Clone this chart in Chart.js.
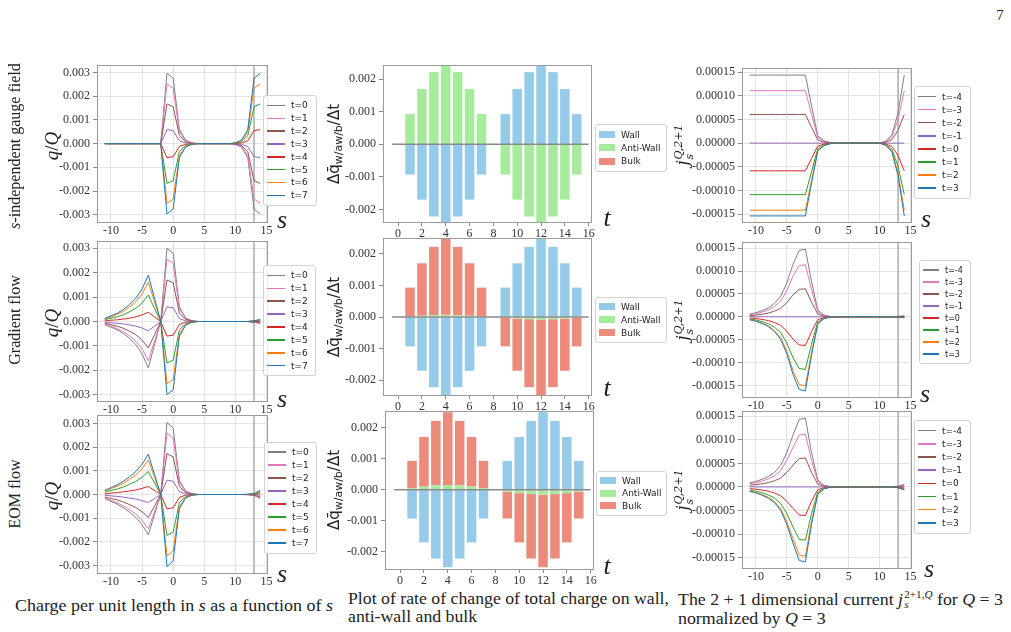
<!DOCTYPE html>
<html>
<head>
<meta charset="utf-8">
<script src="https://cdn.jsdelivr.net/npm/chart.js@4.4.0/dist/chart.umd.min.js"></script>
<style>
  html, body { margin: 0; padding: 0; background: #fff; }
  body { width: 1011px; height: 632px; position: relative; overflow: hidden; font-family: "Liberation Serif", serif; color: #222; }
  canvas { position: absolute; }
  .c { position: absolute; transform: translate(-50%, -50%); white-space: nowrap; line-height: 1; }
  .r { position: absolute; transform: translate(-50%, -50%) rotate(-90deg); white-space: nowrap; line-height: 1; }
  .rowlab { font-size: 15px; }
  .ql { font-size: 19px; font-style: italic; }
  .ql span { font-style: normal; }
  .xl { font-size: 26px; font-style: italic; }
  .ml { font-family: "DejaVu Sans", sans-serif; font-size: 15px; }
  .ml sub { font-size: 11px; vertical-align: -3px; }
  .jl { font-family: "DejaVu Serif", serif; font-size: 16px; font-style: italic; }
  .ss { display: inline-block; vertical-align: -5px; line-height: 1; font-size: 11px; margin-left: 1px; }
  .ss span { display: block; }
  .cap { position: absolute; font-size: 16px; line-height: 18px; white-space: nowrap; transform-origin: 0 0; }
  .cap .ss { font-size: 10px; vertical-align: -3px; }
  .leg { position: absolute; background: rgba(255,255,255,0.85); border: 1px solid #d2d2d2; border-radius: 3px;
         padding: 3px 0 3px 3px; font-family: "DejaVu Sans", sans-serif; font-size: 9px; color: #222; }
  .leg .row { display: flex; align-items: center; }
  .leg .ln { display: inline-block; width: 18px; height: 1.5px; margin-right: 6px; }
  .leg .patch { display: inline-block; width: 16px; height: 7px; margin-right: 6px; }
</style>
</head>
<body>

<div class="c" style="left:1000px;top:15px;font-size:15px">7</div>

<div class="r rowlab" id="rl1" style="left:15px;top:146px"><i>s</i>-independent gauge field</div>
<div class="r rowlab" style="left:15px;top:320px">Gradient flow</div>
<div class="r rowlab" style="left:15px;top:494px">EOM flow</div>

<div class="r ql" style="left:51px;top:146px">q<span>/</span>Q</div>
<div class="r ql" style="left:51px;top:323px">q<span>/</span>Q</div>
<div class="r ql" style="left:51px;top:496px">q<span>/</span>Q</div>

<div class="r ml" style="left:335px;top:144px">Δq̄<sub>w/aw/b</sub>/Δt</div>
<div class="r ml" style="left:335px;top:317px">Δq̄<sub>w/aw/b</sub>/Δt</div>
<div class="r ml" style="left:335px;top:490px">Δq̄<sub>w/aw/b</sub>/Δt</div>

<div class="r jl" style="left:684px;top:145px">j<span class="ss"><span>Q,2+1</span><span>s</span></span></div>
<div class="r jl" style="left:684px;top:320px">j<span class="ss"><span>Q,2+1</span><span>s</span></span></div>
<div class="r jl" style="left:684px;top:490px">j<span class="ss"><span>Q,2+1</span><span>s</span></span></div>

<div class="c xl" style="left:282px;top:219.7px">s</div>
<div class="c xl" style="left:282px;top:398.9px">s</div>
<div class="c xl" style="left:282px;top:573.9px">s</div>
<div class="c xl" style="left:926px;top:219.2px">s</div>
<div class="c xl" style="left:925px;top:393.9px">s</div>
<div class="c xl" style="left:929px;top:568.9px">s</div>
<div class="c xl" style="left:607px;top:218.4px">t</div>
<div class="c xl" style="left:607px;top:387.5px">t</div>
<div class="c xl" style="left:607px;top:565.7px">t</div>

<div class="cap" id="cap1" data-w="318" style="left:15px;top:597px">Charge per unit length in <i>s</i> as a function of <i>s</i></div>
<div class="cap" id="cap2" data-w="321" style="left:348px;top:590px"><div>Plot of rate of change of total charge on wall,</div><div>anti-wall and bulk</div></div>
<div class="cap" id="cap3" data-w="325" style="left:678px;top:590px"><div>The 2 + 1 dimensional current <i>j</i><span class="ss"><span>2+1,<i>Q</i></span><span><i>s</i></span></span> for <i>Q</i> = 3</div><div>normalized by <i>Q</i> = 3</div></div>

<script>
// ---------- data ----------
const sValues = [-11,-10,-9,-8,-7,-6,-5,-4,-3,-2,-1,0,1,2,3,4,5,6,7,8,9,10,11,12,13,14];
const qLabels = ["t=0","t=1","t=2","t=3","t=4","t=5","t=6","t=7"];
const jLabels = ["t=-4","t=-3","t=-2","t=-1","t=0","t=1","t=2","t=3"];
const barLabels = ["Wall","Anti-Wall","Bulk"];

const xTicksS = [-10,-5,0,5,10,15];
const xTicksT = [0,2,4,6,8,10,12,14,16];
const yTicksQ = [-0.003,-0.002,-0.001,0,0.001,0.002,0.003];
const yTicksRate = [-0.002,-0.001,0,0.001,0.002];
const yTicksJ = [-0.00015,-0.0001,-0.00005,0,0.00005,0.0001,0.00015];
const markS = 13;

// q/Q, s-independent gauge field
const gaugeQ = [
  [0,0,0,0,0,0,0,0,0,0, 0.00297,0.00276,0.00059,0.00015,0.00003, 0,0,0,0,0,0, -0.00003,-0.00015,-0.00059,-0.00276,-0.00297],
  [0,0,0,0,0,0,0,0,0,0, 0.00252,0.00234,0.0005,0.00013,0.00003, 0,0,0,0,0,0, -0.00003,-0.00013,-0.0005,-0.00234,-0.00252],
  [0,0,0,0,0,0,0,0,0,0, 0.00168,0.00156,0.00034,0.00008,0.00002, 0,0,0,0,0,0, -0.00002,-0.00008,-0.00034,-0.00156,-0.00168],
  [0,0,0,0,0,0,0,0,0,0, 0.00059,0.00055,0.00012,0.00003,0.00001, 0,0,0,0,0,0, -0.00001,-0.00003,-0.00012,-0.00055,-0.00059],
  [0,0,0,0,0,0,0,0,0,0, -0.00059,-0.00055,-0.00012,-0.00003,-0.00001, 0,0,0,0,0,0, 0.00001,0.00003,0.00012,0.00055,0.00059],
  [0,0,0,0,0,0,0,0,0,0, -0.00168,-0.00156,-0.00034,-0.00008,-0.00002, 0,0,0,0,0,0, 0.00002,0.00008,0.00034,0.00156,0.00168],
  [0,0,0,0,0,0,0,0,0,0, -0.00252,-0.00234,-0.0005,-0.00013,-0.00003, 0,0,0,0,0,0, 0.00003,0.00013,0.0005,0.00234,0.00252],
  [0,0,0,0,0,0,0,0,0,0, -0.00297,-0.00276,-0.00059,-0.00015,-0.00003, 0,0,0,0,0,0, 0.00003,0.00015,0.00059,0.00276,0.00297]
];

// q/Q, gradient flow
const gradQ = [
  [-0.00013,-0.00023,-0.00034,-0.00049,-0.0007,-0.00095,-0.00133,-0.0019,-0.00095, 0, 0.003,0.0028,0.0006,0.00015,0.00003, 0,0,0,0,0,0,0,0,0, -0.00003,-0.00008],
  [-0.00011,-0.00019,-0.00029,-0.00042,-0.0006,-0.00081,-0.00113,-0.00161,-0.00081, 0, 0.00255,0.00238,0.00051,0.00013,0.00003, 0,0,0,0,0,0,0,0,0, -0.00003,-0.00007],
  [-0.00008,-0.00013,-0.00019,-0.00028,-0.0004,-0.00054,-0.00076,-0.00108,-0.00054, 0, 0.0017,0.00159,0.00034,0.00009,0.00002, 0,0,0,0,0,0,0,0,0, -0.00002,-0.00005],
  [-0.00003,-0.00005,-0.00007,-0.0001,-0.00014,-0.00019,-0.00027,-0.00038,-0.00019, 0, 0.0006,0.00056,0.00012,0.00003,0.00001, 0,0,0,0,0,0,0,0,0, -0.00001,-0.00002],
  [0.00003,0.00005,0.00007,0.0001,0.00014,0.00019,0.00027,0.00038,0.00019, 0, -0.0006,-0.00056,-0.00012,-0.00003,-0.00001, 0,0,0,0,0,0,0,0,0, 0.00001,0.00002],
  [0.00008,0.00013,0.00019,0.00028,0.0004,0.00054,0.00076,0.00108,0.00054, 0, -0.0017,-0.00159,-0.00034,-0.00009,-0.00002, 0,0,0,0,0,0,0,0,0, 0.00002,0.00005],
  [0.00011,0.00019,0.00029,0.00042,0.0006,0.00081,0.00113,0.00161,0.00081, 0, -0.00255,-0.00238,-0.00051,-0.00013,-0.00003, 0,0,0,0,0,0,0,0,0, 0.00003,0.00007],
  [0.00013,0.00023,0.00034,0.00049,0.0007,0.00095,0.00133,0.0019,0.00095, 0, -0.003,-0.0028,-0.0006,-0.00015,-0.00003, 0,0,0,0,0,0,0,0,0, 0.00003,0.00008]
];

// q/Q, EOM flow
const eomQ = [
  [-0.00017,-0.00029,-0.00041,-0.00056,-0.00075,-0.00097,-0.00128,-0.0017,-0.00085, 0, 0.00305,0.0028,0.0006,0.00015,0.00003, 0,0,0,0,0,0,0,0, -0.00001,-0.00004,-0.00017],
  [-0.00015,-0.00025,-0.00035,-0.00048,-0.00064,-0.00083,-0.00109,-0.00145,-0.00073, 0, 0.0026,0.00238,0.00051,0.00013,0.00003, 0,0,0,0,0,0,0,0, -0.00001,-0.00003,-0.00014],
  [-0.0001,-0.00017,-0.00023,-0.00032,-0.00043,-0.00055,-0.00073,-0.00097,-0.00049, 0, 0.00173,0.00159,0.00034,0.00009,0.00002, 0,0,0,0,0,0,0,0, 0,-0.00002,-0.0001],
  [-0.00003,-0.00006,-0.00008,-0.00011,-0.00015,-0.00019,-0.00026,-0.00034,-0.00017, 0, 0.00061,0.00056,0.00012,0.00003,0.00001, 0,0,0,0,0,0,0,0, 0,-0.00001,-0.00003],
  [0.00003,0.00006,0.00008,0.00011,0.00015,0.00019,0.00026,0.00034,0.00017, 0, -0.00061,-0.00056,-0.00012,-0.00003,-0.00001, 0,0,0,0,0,0,0,0, 0,0.00001,0.00003],
  [0.0001,0.00017,0.00023,0.00032,0.00043,0.00055,0.00073,0.00097,0.00049, 0, -0.00173,-0.00159,-0.00034,-0.00009,-0.00002, 0,0,0,0,0,0,0,0, 0,0.00002,0.0001],
  [0.00015,0.00025,0.00035,0.00048,0.00064,0.00083,0.00109,0.00145,0.00073, 0, -0.0026,-0.00238,-0.00051,-0.00013,-0.00003, 0,0,0,0,0,0,0,0, 0.00001,0.00003,0.00014],
  [0.00017,0.00029,0.00041,0.00056,0.00075,0.00097,0.00128,0.0017,0.00085, 0, -0.00305,-0.0028,-0.0006,-0.00015,-0.00003, 0,0,0,0,0,0,0,0, 0.00001,0.00004,0.00017]
];

// j_s, s-independent gauge field
const gaugeJ = [
  [1.44e-4,1.44e-4,1.44e-4,1.44e-4,1.44e-4,1.44e-4,1.44e-4,1.44e-4,1.44e-4,1.44e-4, 7.92e-5,1.58e-5,5e-6,1.2e-6, 0,0,0,0,0,0,0,0, 4.3e-6,1.73e-5,6.48e-5,1.44e-4],
  [1.11e-4,1.11e-4,1.11e-4,1.11e-4,1.11e-4,1.11e-4,1.11e-4,1.11e-4,1.11e-4,1.11e-4, 6.11e-5,1.22e-5,3.9e-6,9e-7, 0,0,0,0,0,0,0,0, 3.3e-6,1.33e-5,5e-5,1.11e-4],
  [6.07e-5,6.07e-5,6.07e-5,6.07e-5,6.07e-5,6.07e-5,6.07e-5,6.07e-5,6.07e-5,6.07e-5, 3.34e-5,6.7e-6,2.1e-6,5e-7, 0,0,0,0,0,0,0,0, 1.8e-6,7.3e-6,2.73e-5,6.07e-5],
  [0,0,0,0,0,0,0,0,0,0, 0,0,0,0, 0,0,0,0,0,0,0,0, 0,0,0,0],
  [-5.86e-5,-5.86e-5,-5.86e-5,-5.86e-5,-5.86e-5,-5.86e-5,-5.86e-5,-5.86e-5,-5.86e-5,-5.86e-5, -3.22e-5,-6.4e-6,-2.1e-6,-5e-7, 0,0,0,0,0,0,0,0, -1.8e-6,-7e-6,-2.64e-5,-5.86e-5],
  [-1.09e-4,-1.09e-4,-1.09e-4,-1.09e-4,-1.09e-4,-1.09e-4,-1.09e-4,-1.09e-4,-1.09e-4,-1.09e-4, -6e-5,-1.2e-5,-3.8e-6,-9e-7, 0,0,0,0,0,0,0,0, -3.3e-6,-1.31e-5,-4.9e-5,-1.09e-4],
  [-1.42e-4,-1.42e-4,-1.42e-4,-1.42e-4,-1.42e-4,-1.42e-4,-1.42e-4,-1.42e-4,-1.42e-4,-1.42e-4, -7.81e-5,-1.56e-5,-5e-6,-1.1e-6, 0,0,0,0,0,0,0,0, -4.3e-6,-1.7e-5,-6.39e-5,-1.42e-4],
  [-1.54e-4,-1.54e-4,-1.54e-4,-1.54e-4,-1.54e-4,-1.54e-4,-1.54e-4,-1.54e-4,-1.54e-4,-1.54e-4, -8.47e-5,-1.69e-5,-5.4e-6,-1.2e-6, 0,0,0,0,0,0,0,0, -4.6e-6,-1.85e-5,-6.93e-5,-1.54e-4]
];

// j_s, gradient flow
const gradJ = [
  [5.9e-6,8.9e-6,1.33e-5,1.92e-5,2.96e-5,4.44e-5,7.4e-5,1.15e-4,1.45e-4,1.48e-4, 7.7e-5,1.48e-5,3.7e-6,7e-7, 0,0,0,0,0,0,0,0,0,0, 1e-6,2e-6],
  [4.6e-6,6.8e-6,1.03e-5,1.48e-5,2.28e-5,3.42e-5,5.7e-5,8.89e-5,1.12e-4,1.14e-4, 5.93e-5,1.14e-5,2.9e-6,6e-7, 0,0,0,0,0,0,0,0,0,0, 8e-7,1.5e-6],
  [2.5e-6,3.7e-6,5.5e-6,8e-6,1.23e-5,1.84e-5,3.07e-5,4.78e-5,6.01e-5,6.13e-5, 3.19e-5,6.1e-6,1.5e-6,3e-7, 0,0,0,0,0,0,0,0,0,0, 4e-7,8e-7],
  [0,0,0,0,0,0,0,0,0,0, 0,0,0,0, 0,0,0,0,0,0,0,0,0,0, 0,0],
  [-2.5e-6,-3.8e-6,-5.7e-6,-8.2e-6,-1.26e-5,-1.88e-5,-3.14e-5,-4.9e-5,-6.15e-5,-6.28e-5, -3.27e-5,-6.3e-6,-1.6e-6,-3e-7, 0,0,0,0,0,0,0,0,0,0, -4e-7,-8e-7],
  [-4.6e-6,-6.9e-6,-1.04e-5,-1.5e-5,-2.3e-5,-3.45e-5,-5.75e-5,-8.97e-5,-1.13e-4,-1.15e-4, -5.98e-5,-1.15e-5,-2.9e-6,-6e-7, 0,0,0,0,0,0,0,0,0,0, -8e-7,-1.5e-6],
  [-6e-6,-9.1e-6,-1.36e-5,-1.96e-5,-3.02e-5,-4.53e-5,-7.55e-5,-1.18e-4,-1.48e-4,-1.51e-4, -7.85e-5,-1.51e-5,-3.8e-6,-8e-7, 0,0,0,0,0,0,0,0,0,0, -1e-6,-2e-6],
  [-6.5e-6,-9.7e-6,-1.46e-5,-2.11e-5,-3.24e-5,-4.86e-5,-8.1e-5,-1.26e-4,-1.59e-4,-1.62e-4, -8.42e-5,-1.62e-5,-4e-6,-8e-7, 0,0,0,0,0,0,0,0,0,0, -1e-6,-2e-6]
];

// j_s, EOM flow
const eomJ = [
  [8.8e-6,1.17e-5,1.61e-5,2.19e-5,3.07e-5,4.53e-5,7.3e-5,1.1e-4,1.43e-4,1.46e-4, 7.3e-5,1.46e-5,3.7e-6,7e-7, 0,0,0,0,0,0,0,0,0, 3e-7,1.5e-6,5.8e-6],
  [6.7e-6,9e-6,1.23e-5,1.68e-5,2.35e-5,3.47e-5,5.6e-5,8.4e-5,1.1e-4,1.12e-4, 5.6e-5,1.12e-5,2.8e-6,6e-7, 0,0,0,0,0,0,0,0,0, 2e-7,1.1e-6,4.5e-6],
  [3.7e-6,4.9e-6,6.8e-6,9.2e-6,1.29e-5,1.9e-5,3.07e-5,4.6e-5,6.02e-5,6.14e-5, 3.07e-5,6.1e-6,1.5e-6,3e-7, 0,0,0,0,0,0,0,0,0, 1e-7,6e-7,2.5e-6],
  [0,0,0,0,0,0,0,0,0,0, 0,0,0,0, 0,0,0,0,0,0,0,0,0, 0,0,0],
  [-3.6e-6,-4.9e-6,-6.7e-6,-9.1e-6,-1.27e-5,-1.88e-5,-3.04e-5,-4.55e-5,-5.95e-5,-6.07e-5, -3.04e-5,-6.1e-6,-1.5e-6,-3e-7, 0,0,0,0,0,0,0,0,0, -1e-7,-6e-7,-2.4e-6],
  [-6.8e-6,-9e-6,-1.24e-5,-1.7e-5,-2.37e-5,-3.5e-5,-5.65e-5,-8.48e-5,-1.11e-4,-1.13e-4, -5.65e-5,-1.13e-5,-2.8e-6,-6e-7, 0,0,0,0,0,0,0,0,0, -2e-7,-1.1e-6,-4.5e-6],
  [-8.8e-6,-1.18e-5,-1.62e-5,-2.2e-5,-3.09e-5,-4.56e-5,-7.35e-5,-1.1e-4,-1.44e-4,-1.47e-4, -7.35e-5,-1.47e-5,-3.7e-6,-7e-7, 0,0,0,0,0,0,0,0,0, -3e-7,-1.5e-6,-5.9e-6],
  [-9.5e-6,-1.27e-5,-1.75e-5,-2.39e-5,-3.34e-5,-4.93e-5,-7.95e-5,-1.19e-4,-1.56e-4,-1.59e-4, -7.95e-5,-1.59e-5,-4e-6,-8e-7, 0,0,0,0,0,0,0,0,0, -3e-7,-1.6e-6,-6.4e-6]
];

// rate of change of charge: wall / anti-wall / bulk
const tBars = [1,2,3,4,5,6,7,9,10,11,12,13,14,15];
const wallGauge = [-0.00093,-0.0017,-0.00222,-0.0025,-0.00222,-0.0017,-0.00093, 0.00093,0.0017,0.00222,0.0025,0.00222,0.0017,0.00093];
const antiGauge = [0.00093,0.0017,0.00222,0.0025,0.00222,0.0017,0.00093, -0.00093,-0.0017,-0.00222,-0.0025,-0.00222,-0.0017,-0.00093];
const bulkGauge = [0,0,0,0,0,0,0, 0,0,0,0,0,0,0];
const wallGrad = [-0.00093,-0.0017,-0.00222,-0.0025,-0.00222,-0.0017,-0.00093, 0.00093,0.0017,0.00222,0.0025,0.00222,0.0017,0.00093];
const antiGrad = [0.00002,0.00004,0.00006,0.00007,0.00006,0.00004,0.00002, -0.00003,-0.00005,-0.00007,-0.00008,-0.00007,-0.00005,-0.00003];
const bulkGrad = [0.00091,0.00166,0.00216,0.00243,0.00216,0.00166,0.00091, -0.0009,-0.00165,-0.00215,-0.00242,-0.00215,-0.00165,-0.0009];
const wallEom = [-0.00093,-0.0017,-0.00222,-0.0025,-0.00222,-0.0017,-0.00093, 0.00093,0.0017,0.00222,0.0025,0.00222,0.0017,0.00093];
const antiEom = [0.00005,0.0001,0.00014,0.00015,0.00014,0.0001,0.00005, -0.00006,-0.00011,-0.00014,-0.00016,-0.00014,-0.00011,-0.00006];
const bulkEom = [0.00088,0.0016,0.00208,0.00235,0.00208,0.0016,0.00088, -0.00087,-0.00159,-0.00208,-0.00234,-0.00208,-0.00159,-0.00087];
const zeroSpan = [-0.5, 16];

// ---------- styles ----------
const lineColors = ["#7f7f7f","#e377c2","#8c564b","#9467bd","#d62728","#2ca02c","#ff7f0e","#1f77b4"];
const barColors = ["#95cbe8","#a6ea9c","#ec8a7b"];
const tickFont = { family: "Liberation Serif", size: 12 };
const PAD = 12, XH = 20;

const framePlugin = {
  id: "frame",
  afterDraw(chart) {
    const { ctx, chartArea: a } = chart;
    ctx.save();
    ctx.strokeStyle = "#9c9c9c";
    ctx.lineWidth = 1;
    ctx.strokeRect(Math.round(a.left) + 0.5, Math.round(a.top) + 0.5, Math.round(a.width) - 1, Math.round(a.height) - 1);
    ctx.restore();
  }
};

function makeCanvas(box, W) {
  const [l, t, r, b] = box;
  const cv = document.createElement("canvas");
  cv.width = (r - l) + W + PAD;
  cv.height = (b - t) + PAD + XH;
  cv.style.left = (l - W) + "px";
  cv.style.top = (t - PAD) + "px";
  document.body.insertBefore(cv, document.body.firstChild);
  return cv;
}

function baseOptions() {
  return {
    responsive: false, animation: false, devicePixelRatio: 1, events: [],
    layout: { padding: { top: PAD, right: PAD, left: 0, bottom: 0 } },
    plugins: { legend: { display: false }, tooltip: { enabled: false } }
  };
}

function yAxis(p, grid) {
  return {
    type: "linear", min: p.yMin, max: p.yMax, stacked: p.stacked || false,
    afterBuildTicks: s => { s.ticks = p.yTicks.map(v => ({ value: v })); },
    afterFit: s => { s.width = p.W; },
    ticks: { font: tickFont, color: "#333", padding: 3, callback: v => v.toFixed(p.digits) },
    grid: { display: true, drawOnChartArea: grid, color: "#e3e3e3", tickLength: 4, tickColor: "#8a8a8a" },
    border: { display: false }
  };
}

function lineChart(p) {
  const cv = makeCanvas(p.box, p.W);
  const ds = p.series.map((ys, i) => ({
    data: ys.map((y, k) => ({ x: sValues[k], y: y })),
    borderColor: lineColors[i], borderWidth: 1, pointRadius: 0, tension: 0,
    order: p.series.length - i
  }));
  ds.push({ data: [{ x: markS, y: p.yMin }, { x: markS, y: p.yMax }],
            borderColor: "#ababab", borderWidth: 1.5, pointRadius: 0, order: 99 });
  const opts = baseOptions();
  opts.scales = {
    x: {
      type: "linear", min: -12.25, max: 15.25,
      afterBuildTicks: s => { s.ticks = xTicksS.map(v => ({ value: v })); },
      afterFit: s => { s.height = XH; },
      ticks: { font: tickFont, color: "#333", padding: 1, maxRotation: 0, autoSkip: false, callback: v => String(v) },
      grid: { color: "#e3e3e3", drawTicks: false },
      border: { display: false }
    },
    y: yAxis(p, true)
  };
  new Chart(cv, { type: "line", data: { datasets: ds }, options: opts, plugins: [framePlugin] });
}

function barChart(p) {
  const cv = makeCanvas(p.box, p.W);
  const vals = [p.wall, p.anti, p.bulk];
  const ds = vals.map((arr, i) => ({
    type: "bar", label: barLabels[i],
    data: arr.map((y, k) => ({ x: tBars[k], y: y })),
    backgroundColor: barColors[i], borderWidth: 0,
    barPercentage: 0.8, categoryPercentage: 1, order: 1
  }));
  ds.push({ type: "line", data: [{ x: zeroSpan[0], y: 0 }, { x: zeroSpan[1], y: 0 }],
            borderColor: "rgba(125,125,125,0.9)", borderWidth: 1.5, pointRadius: 0, stack: "zero", order: 0 });
  const opts = baseOptions();
  p.stacked = true;
  opts.scales = {
    x: {
      type: "linear", min: -1.27, max: 16.28, offset: false, stacked: true,
      afterBuildTicks: s => { s.ticks = xTicksT.map(v => ({ value: v })); },
      afterFit: s => { s.height = XH; },
      ticks: { font: tickFont, color: "#333", padding: 1, maxRotation: 0, autoSkip: false, callback: v => String(v) },
      grid: { offset: false, drawOnChartArea: false, tickLength: 3, tickColor: "#8a8a8a" },
      border: { display: false }
    },
    y: yAxis(p, false)
  };
  new Chart(cv, { type: "bar", data: { datasets: ds }, options: opts, plugins: [framePlugin] });
}

function makeLegend(pos, labels, colors, kind) {
  const box = document.createElement("div");
  box.className = "leg";
  box.style.left = pos.x + "px";
  box.style.top = pos.y + "px";
  box.style.width = pos.w + "px";
  if (pos.font) box.style.fontSize = pos.font + "px";
  labels.forEach((lab, i) => {
    const row = document.createElement("div");
    row.className = "row";
    row.style.height = pos.rowH + "px";
    const mark = document.createElement("span");
    mark.className = kind === "bar" ? "patch" : "ln";
    mark.style.background = colors[i];
    if (pos.lw) mark.style.width = pos.lw + "px";
    const txt = document.createElement("span");
    txt.textContent = lab;
    row.append(mark, txt);
    box.append(row);
  });
  document.body.append(box);
}

// ---------- panels ----------
lineChart({ box: [97, 65, 268, 223], series: gaugeQ, yMin: -0.00335, yMax: 0.00332, yTicks: yTicksQ, digits: 3, W: 50 });
lineChart({ box: [97, 241, 268, 402], series: gradQ, yMin: -0.0033, yMax: 0.0033, yTicks: yTicksQ, digits: 3, W: 50 });
lineChart({ box: [97, 415, 268, 574], series: eomQ, yMin: -0.00336, yMax: 0.00336, yTicks: yTicksQ, digits: 3, W: 50 });

barChart({ box: [383, 65, 592, 223], wall: wallGauge, anti: antiGauge, bulk: bulkGauge, yMin: -0.00242, yMax: 0.00244, yTicks: yTicksRate, digits: 3, W: 45 });
barChart({ box: [383, 238, 592, 396], wall: wallGrad, anti: antiGrad, bulk: bulkGrad, yMin: -0.0025, yMax: 0.0025, yTicks: yTicksRate, digits: 3, W: 45 });
barChart({ box: [385, 411, 594, 570], wall: wallEom, anti: antiEom, bulk: bulkEom, yMin: -0.00259, yMax: 0.00254, yTicks: yTicksRate, digits: 3, W: 45 });

lineChart({ box: [742, 68, 912, 223], series: gaugeJ, yMin: -0.000169, yMax: 0.000159, yTicks: yTicksJ, digits: 5, W: 55 });
lineChart({ box: [742, 242, 912, 398], series: gradJ, yMin: -0.0001775, yMax: 0.0001635, yTicks: yTicksJ, digits: 5, W: 55 });
lineChart({ box: [742, 411, 912, 569], series: eomJ, yMin: -0.000174, yMax: 0.000161, yTicks: yTicksJ, digits: 5, W: 55 });

makeLegend({ x: 263, y: 95, w: 49, rowH: 12.85 }, qLabels, lineColors, "line");
makeLegend({ x: 263, y: 265, w: 48, rowH: 12.9 }, qLabels, lineColors, "line");
makeLegend({ x: 264, y: 441.5, w: 48, rowH: 13 }, qLabels, lineColors, "line");
makeLegend({ x: 595, y: 124, w: 67, rowH: 13.3 }, barLabels, barColors, "bar");
makeLegend({ x: 595, y: 296.5, w: 67, rowH: 12.9 }, barLabels, barColors, "bar");
makeLegend({ x: 596, y: 470.5, w: 66, rowH: 12.5 }, barLabels, barColors, "bar");
makeLegend({ x: 914, y: 86, w: 52, rowH: 13.1 }, jLabels, lineColors, "line");
makeLegend({ x: 919, y: 260, w: 47, rowH: 12, font: 8, lw: 16 }, jLabels, lineColors, "line");
makeLegend({ x: 914, y: 420, w: 52, rowH: 13.2 }, jLabels, lineColors, "line");

// ---------- fit page text widths ----------
const rl = document.getElementById("rl1");
const rowSize = 15 * 166 / rl.offsetWidth;
document.querySelectorAll(".rowlab").forEach(el => { el.style.fontSize = rowSize + "px"; });
["cap1", "cap2", "cap3"].forEach(id => {
  const el = document.getElementById(id);
  const first = el.firstElementChild && el.firstElementChild.tagName === "DIV" ? el.firstElementChild : el;
  const w = first.getBoundingClientRect().width;
  el.style.transform = "scaleX(" + (Number(el.dataset.w) / w) + ")";
});
</script>
</body>
</html>
